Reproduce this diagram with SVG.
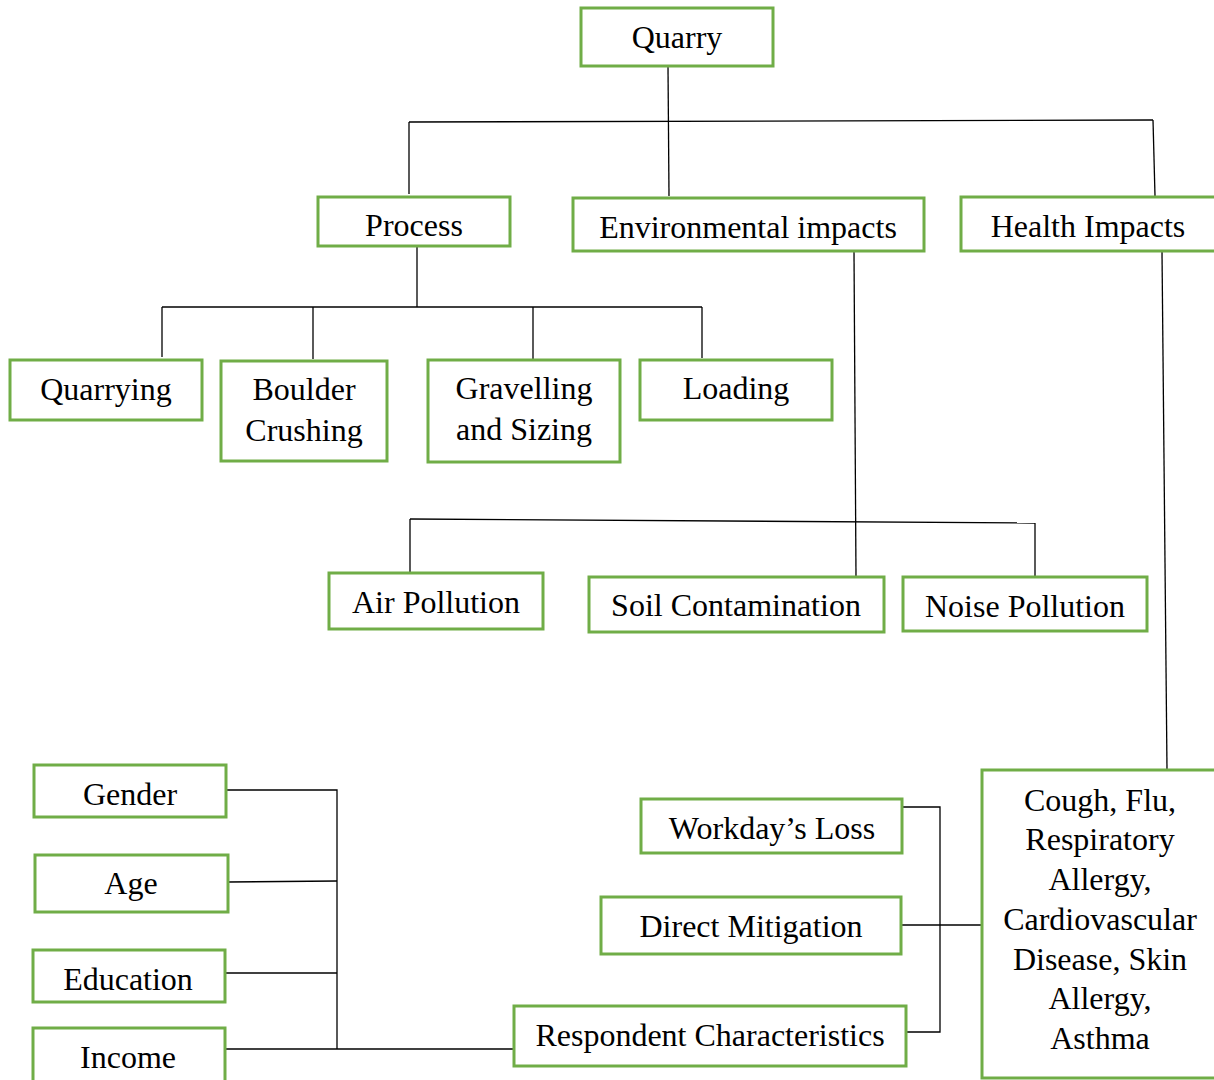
<svg xmlns="http://www.w3.org/2000/svg" width="1214" height="1080" viewBox="0 0 1214 1080">
<style>
.box{fill:#fff;stroke:#70ad47;stroke-width:3}
.t{font-family:"Liberation Serif","Times New Roman",serif;font-size:32px;fill:#000;text-anchor:middle}
.c{fill:none;stroke:#000;stroke-width:1.3}
</style>
<rect width="1214" height="1080" fill="#fff"/>
<g id="connectors">
<path class="c" d="M668 67 L669 196"/>
<path class="c" d="M409 122 L1153 120"/>
<path class="c" d="M409 122 L409 194"/>
<path class="c" d="M1153 120 L1155 196"/>
<path class="c" d="M417 247 L417 307"/>
<path class="c" d="M162 307 L702 307"/>
<path class="c" d="M162 307 L162 357"/>
<path class="c" d="M313 307 L313 359"/>
<path class="c" d="M533 307 L533 359"/>
<path class="c" d="M702 307 L702 358"/>
<path class="c" d="M854 252 L856 577"/>
<path class="c" d="M410 519 L1035 523"/>
<path class="c" d="M410 519 L410 573"/>
<path class="c" d="M1035 523 L1035 577"/>
<path class="c" d="M1162 252 L1167 770"/>
<path class="c" d="M226 790 L337 790 L337 1049"/>
<path class="c" d="M228 882 L337 881"/>
<path class="c" d="M225 973 L337 973"/>
<path class="c" d="M225 1049 L514 1049"/>
<path class="c" d="M902 807 L940 807 L940 1032 L906 1032"/>
<path class="c" d="M901 925 L982 925"/>
</g>
<g id="quarry"><rect class="box" x="581" y="8" width="192" height="58"/><text class="t" x="677" y="48">Quarry</text></g>
<g id="process"><rect class="box" x="318" y="197" width="192" height="49"/><text class="t" x="414" y="236">Process</text></g>
<g id="env"><rect class="box" x="573" y="198" width="351" height="53"/><text class="t" x="748" y="238">Environmental impacts</text></g>
<g id="health"><rect class="box" x="961" y="197" width="260" height="54"/><text class="t" x="1088" y="237">Health Impacts</text></g>
<g id="quarrying"><rect class="box" x="10" y="360" width="192" height="60"/><text class="t" x="106" y="400">Quarrying</text></g>
<g id="boulder"><rect class="box" x="221" y="361" width="166" height="100"/><text class="t" x="304" y="400">Boulder</text><text class="t" x="304" y="441">Crushing</text></g>
<g id="gravelling"><rect class="box" x="428" y="360" width="192" height="102"/><text class="t" x="524" y="399">Gravelling</text><text class="t" x="524" y="440">and Sizing</text></g>
<g id="loading"><rect class="box" x="640" y="360" width="192" height="60"/><text class="t" x="736" y="399">Loading</text></g>
<g id="air"><rect class="box" x="329" y="573" width="214" height="56"/><text class="t" x="436" y="613">Air Pollution</text></g>
<g id="soil"><rect class="box" x="589" y="577" width="295" height="55"/><text class="t" x="736" y="616">Soil Contamination</text></g>
<g id="noise"><rect class="box" x="903" y="577" width="244" height="54"/><text class="t" x="1025" y="617">Noise Pollution</text></g>
<g id="gender"><rect class="box" x="34" y="765" width="192" height="52"/><text class="t" x="130" y="805">Gender</text></g>
<g id="age"><rect class="box" x="35" y="855" width="193" height="57"/><text class="t" x="131" y="894">Age</text></g>
<g id="education"><rect class="box" x="33" y="950" width="192" height="52"/><text class="t" x="128" y="990">Education</text></g>
<g id="income"><rect class="box" x="33" y="1028" width="192" height="60"/><text class="t" x="128" y="1068">Income</text></g>
<g id="respondent"><rect class="box" x="514" y="1006" width="392" height="60"/><text class="t" x="710" y="1046">Respondent Characteristics</text></g>
<g id="workday"><rect class="box" x="641" y="799" width="261" height="54"/><text class="t" x="772" y="839">Workday’s Loss</text></g>
<g id="mitigation"><rect class="box" x="601" y="897" width="300" height="57"/><text class="t" x="751" y="937">Direct Mitigation</text></g>
<g id="symptoms"><rect class="box" x="982" y="770" width="240" height="308"/>
<text class="t" x="1100" y="811">Cough, Flu,</text>
<text class="t" x="1100" y="850">Respiratory</text>
<text class="t" x="1100" y="890">Allergy,</text>
<text class="t" x="1100" y="930">Cardiovascular</text>
<text class="t" x="1100" y="970">Disease, Skin</text>
<text class="t" x="1100" y="1009">Allergy,</text>
<text class="t" x="1100" y="1049">Asthma</text>
</g>
</svg>
